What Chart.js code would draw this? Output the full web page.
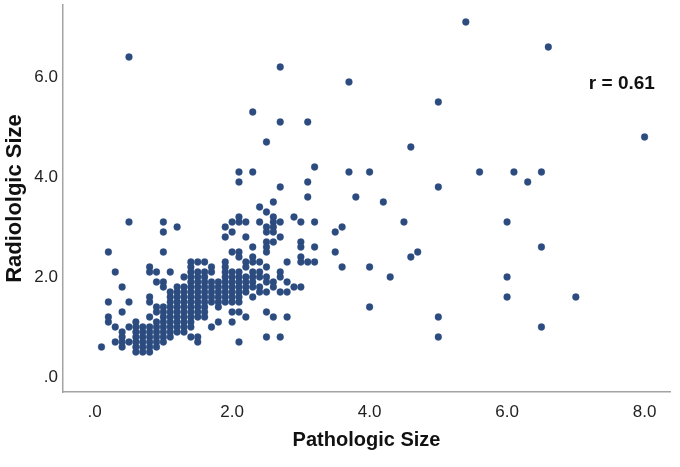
<!DOCTYPE html>
<html>
<head>
<meta charset="utf-8">
<script src="https://cdn.jsdelivr.net/npm/chart.js@4/dist/chart.umd.min.js"></script>
<style>
  html, body { margin: 0; padding: 0; background: #ffffff; }
  #wrap { width: 680px; height: 467px; }
</style>
</head>
<body>
<div id="wrap"><canvas id="c" width="680" height="467"></canvas></div>
<script>
// Pathologic size (x) columns and the radiologic sizes (y) observed at each
const pathologicSize = [0.1, 0.2, 0.3, 0.4, 0.5, 0.6, 0.7, 0.8, 0.9, 1.0,
  1.1, 1.2, 1.3, 1.4, 1.5, 1.6, 1.7, 1.8, 1.9, 2.0,
  2.1, 2.2, 2.3, 2.4, 2.5, 2.6, 2.7, 2.8, 2.9, 3.0,
  3.1, 3.2, 3.5, 3.6, 3.7, 3.8, 4.0, 4.2, 4.3, 4.5,
  4.6, 4.7, 5.0, 5.4, 5.6, 6.0, 6.1, 6.3, 6.5, 6.6, 7.0, 8.0];
const radiologicSize = [
  [0.6],
  [2.5, 1.5, 1.2, 1.1],
  [2.1, 1.0, 0.7],
  [1.8, 1.3, 0.9, 0.8, 0.7, 0.6],
  [6.4, 3.1, 1.5, 1.0, 0.7],
  [1.1, 1.0, 0.9, 0.8, 0.7, 0.6, 0.5],
  [1.0, 0.9, 0.8, 0.7, 0.6, 0.5],
  [2.2, 2.1, 1.6, 1.5, 1.2, 1.0, 0.9, 0.8, 0.7, 0.6, 0.5],
  [2.1, 1.9, 1.4, 1.3, 1.1, 1.0, 0.9, 0.8, 0.7, 0.6],
  [3.1, 2.9, 2.5, 1.9, 1.8, 1.4, 1.3, 1.2, 1.1, 1.0, 0.9, 0.8, 0.7],
  [2.1, 1.7, 1.6, 1.5, 1.4, 1.3, 1.2, 1.1, 1.0, 0.9, 0.8],
  [3.0, 1.8, 1.7, 1.6, 1.5, 1.4, 1.3, 1.2, 1.1, 1.0, 0.9],
  [2.0, 1.8, 1.7, 1.6, 1.5, 1.4, 1.3, 1.2, 1.1, 1.0, 0.9],
  [2.3, 2.2, 2.1, 2.0, 1.9, 1.8, 1.7, 1.6, 1.5, 1.4, 1.3, 1.2, 1.1, 1.0, 0.8],
  [2.3, 2.1, 2.0, 1.9, 1.8, 1.7, 1.6, 1.5, 1.4, 1.3, 1.2, 0.8, 0.7],
  [2.3, 2.1, 2.0, 1.9, 1.8, 1.7, 1.6, 1.5, 1.4, 1.3, 1.2],
  [2.2, 2.1, 1.9, 1.8, 1.7, 1.6, 1.5, 1.0],
  [1.9, 1.8, 1.7, 1.6, 1.5, 1.4, 1.1],
  [3.0, 2.8, 2.3, 2.2, 2.1, 2.0, 1.9, 1.8, 1.7, 1.6, 1.5],
  [3.1, 2.9, 2.5, 2.1, 2.0, 1.9, 1.8, 1.7, 1.6, 1.5, 1.3, 1.1],
  [4.1, 3.9, 3.2, 3.1, 2.5, 2.4, 2.1, 2.0, 1.9, 1.8, 1.7, 1.6, 1.5, 1.3, 0.7],
  [3.1, 2.8, 2.3, 2.2, 2.0, 1.9, 1.8, 1.7, 1.2],
  [5.3, 4.1, 2.6, 2.4, 2.3, 2.1, 2.0, 1.9, 1.8, 1.6],
  [3.4, 3.1, 2.3, 2.1, 2.0, 1.8, 1.7],
  [4.7, 3.3, 3.0, 2.9, 2.7, 2.6, 2.5, 2.2, 2.0, 1.9, 1.7, 1.3, 0.8],
  [3.5, 3.2, 3.1, 3.0, 2.9, 2.7, 1.9, 1.8, 1.2],
  [6.2, 5.1, 3.8, 3.1, 2.8, 2.1, 2.0, 1.7, 0.8],
  [2.3, 1.9, 1.7, 1.2],
  [3.2, 1.8],
  [3.1, 2.7, 2.6, 2.4, 2.3, 1.8],
  [5.1, 3.9, 3.6, 2.3],
  [4.2, 3.1, 2.6, 2.3],
  [2.9, 2.5],
  [3.0, 2.2],
  [5.9, 4.1],
  [3.6],
  [4.1, 2.2, 1.4],
  [3.5],
  [2.0],
  [3.1],
  [4.6, 2.4],
  [2.5],
  [5.5, 3.8, 1.2, 0.8],
  [7.1],
  [4.1],
  [3.1, 2.0, 1.6],
  [4.1],
  [3.9],
  [4.1, 2.6, 1.0],
  [6.6],
  [1.6],
  [4.8]
];
const xTicks = [0, 2, 4, 6, 8];
const yTicks = [0, 2, 4, 6];
const xTitle = 'Pathologic Size';
const yTitle = 'Radiololgic Size';
const corrLabel = 'r = 0.61';

const points = [];
pathologicSize.forEach((x, i) => {
  radiologicSize[i].forEach(y => points.push({ x: x, y: y }));
});

const fmt = v => (v === 0 ? '.0' : v.toFixed(1));

const corrPlugin = {
  id: 'corr',
  afterDraw(chart) {
    const ctx = chart.ctx;
    const xs = chart.scales.x, ys = chart.scales.y;
    ctx.save();
    ctx.font = 'bold 19px "Liberation Sans", Arial, sans-serif';
    ctx.fillStyle = '#111111';
    ctx.textAlign = 'center';
    ctx.textBaseline = 'middle';
    ctx.fillText(corrLabel, xs.getPixelForValue(7.67), ys.getPixelForValue(5.86));
    ctx.restore();
  }
};

new Chart(document.getElementById('c'), {
  type: 'scatter',
  data: {
    datasets: [{
      data: points,
      backgroundColor: '#2c4c80',
      borderColor: 'rgba(44,76,128,0.55)',
      borderWidth: 0.7,
      pointRadius: 3.4,
      pointHoverRadius: 3.4
    }]
  },
  options: {
    responsive: false,
    animation: false,
    devicePixelRatio: 1,
    layout: { padding: { left: 0, right: 10, top: 5, bottom: 0 } },
    plugins: { legend: { display: false }, tooltip: { enabled: false } },
    scales: {
      x: {
        type: 'linear',
        min: -0.46,
        max: 8.37,
        grid: { display: false, drawTicks: false },
        border: { display: true, color: '#a3a3a3', width: 1.5 },
        afterBuildTicks: s => { s.ticks = xTicks.map(v => ({ value: v })); },
        afterFit: s => { s.height = 75; s.paddingLeft = 0; s.paddingRight = 0; },
        ticks: {
          padding: 10,
          color: '#222222',
          font: { family: '"Liberation Sans", Arial, sans-serif', size: 17 },
          callback: v => fmt(v)
        },
        title: {
          display: true,
          text: xTitle,
          color: '#111111',
          font: { family: '"Liberation Sans", Arial, sans-serif', size: 20, weight: 'bold' },
          padding: { top: 4, bottom: 15 }
        }
      },
      y: {
        type: 'linear',
        min: -0.3,
        max: 7.44,
        grid: { display: false, drawTicks: false },
        border: { display: true, color: '#a3a3a3', width: 1.5 },
        afterBuildTicks: s => { s.ticks = yTicks.map(v => ({ value: v })); },
        afterFit: s => { s.width = 63; s.paddingTop = 0; s.paddingBottom = 0; },
        ticks: {
          padding: 5,
          color: '#222222',
          font: { family: '"Liberation Sans", Arial, sans-serif', size: 17 },
          callback: v => fmt(v)
        },
        title: {
          display: true,
          text: yTitle,
          color: '#111111',
          font: { family: '"Liberation Sans", Arial, sans-serif', size: 22, weight: 'bold' },
          padding: { top: 2, bottom: 4 }
        }
      }
    }
  },
  plugins: [corrPlugin]
});
</script>
</body>
</html>
